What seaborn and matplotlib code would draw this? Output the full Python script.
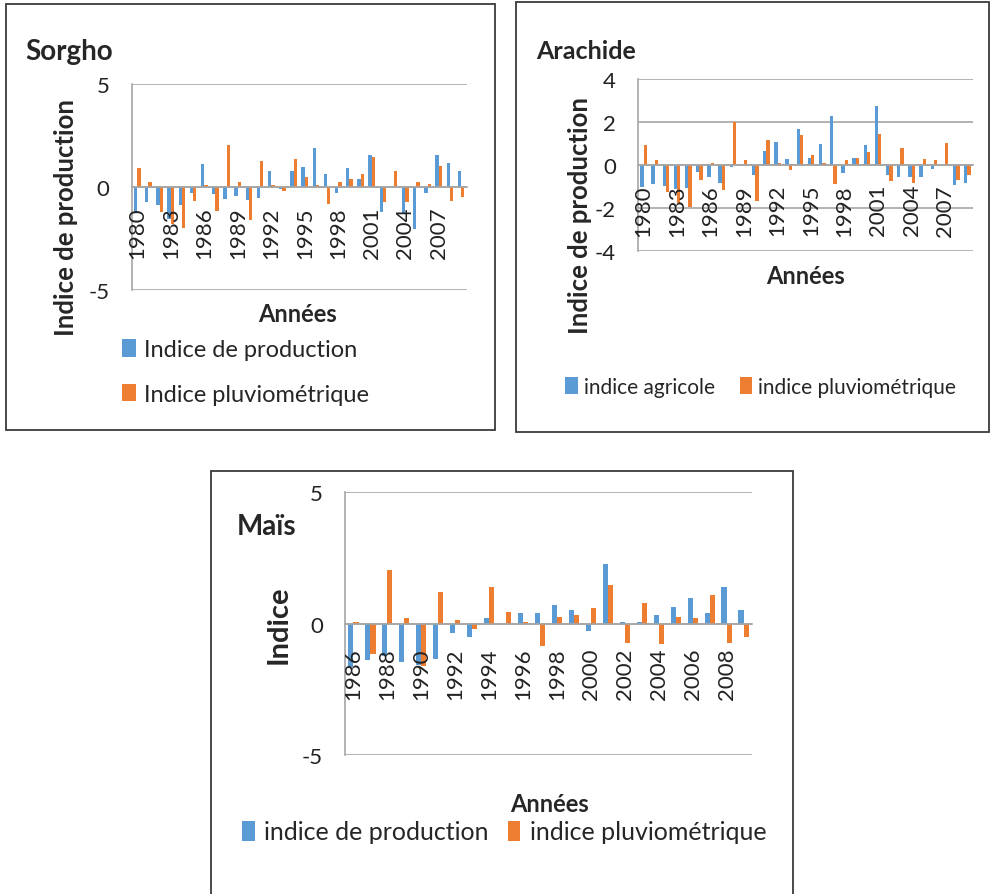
import numpy as np
import pandas as pd
import matplotlib
matplotlib.use("Agg")
import matplotlib.pyplot as plt
from matplotlib.patches import Rectangle
from matplotlib.ticker import FixedLocator
import seaborn as sns

# --- data ---
annees_sorgho = list(range(1980, 2010))
prod_sorgho = [-1.25, -0.75, -0.9, -1.55, -0.9, -0.3, 1.09, -0.37, -0.57, -0.45,
               -0.62, -0.55, 0.77, -0.1, 0.77, 0.98, 1.9, 0.62, -0.3, 0.9,
               0.36, 1.56, -1.24, 0.0, -1.25, -2.05, -0.3, 1.56, 1.17, 0.77]
pluvio_sorgho = [0.9, 0.23, -1.24, -1.8, -1.98, -0.7, 0.1, -1.15, 2.02, 0.23,
                 -1.63, 1.24, 0.08, -0.2, 1.37, 0.49, 0.1, -0.83, 0.23, 0.36,
                 0.64, 1.43, -0.75, 0.77, -0.75, 0.23, 0.15, 1.03, -0.7, -0.5]

annees_arachide = list(range(1980, 2010))
prod_arachide = [-1.0, -0.87, -0.98, -1.1, -1.06, -0.33, -0.54, -0.82, -0.09, 0.0,
                 -0.45, 0.67, 1.06, 0.3, 1.7, 0.34, 1.0, 2.29, -0.36, 0.34,
                 0.92, 2.74, -0.45, -0.54, -0.54, -0.54, -0.17, 0.0, -0.93, -0.82]
pluvio_arachide = [0.92, 0.22, -1.26, -1.76, -1.96, -0.67, 0.09, -1.14, 2.0, 0.22,
                   -1.65, 1.18, 0.09, -0.22, 1.39, 0.48, 0.09, -0.87, 0.22, 0.34,
                   0.61, 1.45, -0.75, 0.8, -0.82, 0.28, 0.22, 1.04, -0.67, -0.45]

annees_mais = list(range(1986, 2010))
prod_mais = [-1.65, -1.4, -1.25, -1.47, -1.56, -1.36, -0.35, -0.52, 0.2, 0.0,
             0.4, 0.4, 0.72, 0.52, -0.28, 2.28, 0.08, 0.08, 0.33, 0.65,
             0.97, 0.4, 1.39, 0.52]
pluvio_mais = [0.08, -1.15, 2.03, 0.2, -1.6, 1.2, 0.14, -0.22, 1.39, 0.46,
               0.08, -0.84, 0.27, 0.33, 0.59, 1.46, -0.73, 0.78, -0.78, 0.27,
               0.2, 1.09, -0.73, -0.52]

BLEU = "#5B9BD5"
ORANGE = "#ED7D31"
GRIS = "#A6A6A6"
W, H = 992, 895

sns.set_style("white")
plt.rcParams["font.family"] = ["Lato", "DejaVu Sans"]
plt.rcParams["patch.force_edgecolor"] = False

fig = plt.figure(figsize=(W / 100, H / 100), dpi=100)


def px(x, y):
    return x / W, 1 - y / H


def panneau(box, annees, prod, pluvio, noms, ylim, yticks, pas, ecart):
    x0, y0, x1, y1 = box
    ax = fig.add_axes([x0 / W, 1 - y1 / H, (x1 - x0) / W, (y1 - y0) / H])
    df = pd.DataFrame({
        "annee": [str(a) for a in annees] * 2,
        "valeur": list(prod) + list(pluvio),
        "serie": [noms[0]] * len(annees) + [noms[1]] * len(annees),
    })
    sns.barplot(data=df, x="annee", y="valeur", hue="serie",
                palette=[BLEU, ORANGE], width=0.6, saturation=1,
                errorbar=None, linewidth=0, ax=ax)
    n = len(annees)
    ax.spines["bottom"].set_position(("data", 0))
    ax.set_xlim(-0.5, n - 0.5)
    ax.set_ylim(*ylim)
    ax.set_yticks(yticks)
    ax.set_yticklabels([str(t) for t in yticks])
    ax.set_xticks([])
    ax.xaxis.set_minor_locator(FixedLocator(np.arange(-0.5, n, 1.0)))
    for s in ["top", "right"]:
        ax.spines[s].set_visible(False)
    for s in ["left", "bottom"]:
        ax.spines[s].set_color(GRIS)
        ax.spines[s].set_linewidth(1.2)
    ax.tick_params(axis="x", which="minor", length=6, color=GRIS, width=1.0,
                   direction="out")
    ax.tick_params(axis="y", length=7, color=GRIS, width=1.2, pad=9,
                   labelsize=16, labelcolor="#222222")
    # year labels just under the zero line, drawn over the bars
    for i in range(0, n, pas):
        ax.annotate(str(annees[i]), xy=(i, 0), xycoords="data",
                    xytext=(0, -ecart), textcoords="offset points",
                    rotation=90, ha="center", va="top", fontsize=16,
                    color="#222222", annotation_clip=False)
    ax.yaxis.grid(True, color=GRIS, lw=1.2)
    ax.set_axisbelow(True)
    ax.set_xlabel("")
    ax.set_ylabel("")
    return ax


def cadre(x0, y0, x1, y1):
    fig.add_artist(Rectangle(px(x0, y1), (x1 - x0) / W, (y1 - y0) / H,
                             transform=fig.transFigure, fill=False,
                             ec="#3A3A3A", lw=1.3))


# Sorgho
cadre(6, 5, 495, 431)
ax1 = panneau((131.7, 85, 466.7, 290.7), annees_sorgho, prod_sorgho, pluvio_sorgho,
              ["Indice de production", "Indice pluviométrique"],
              (-5, 5), [-5, 0, 5], 3, 14)
fig.text(*px(25, 60), "Sorgho", fontsize=20, fontweight="bold", ha="left", va="baseline")
fig.text(*px(66, 218), "Indice de production", fontsize=18.5, fontweight="bold",
         rotation=90, ha="center", va="center")
fig.text(*px(298, 315), "Années", fontsize=17, fontweight="bold", ha="center", va="center")
h, l = ax1.get_legend_handles_labels()
ax1.legend(h, l, loc="center left", bbox_to_anchor=px(122, 373),
           bbox_transform=fig.transFigure, frameon=False, fontsize=17, ncol=1,
           handlelength=0.6, handleheight=0.75, handletextpad=0.35,
           labelspacing=1.0, borderpad=0, borderaxespad=0)

# Arachide
cadre(516, 3, 989, 433)
ax2 = panneau((638, 80, 973, 252.3), annees_arachide, prod_arachide, pluvio_arachide,
              ["indice agricole", "indice pluviométrique"],
              (-4, 4), [-4, -2, 0, 2, 4], 3, 13.5)
fig.text(*px(536, 59), "Arachide", fontsize=18, fontweight="bold", ha="left", va="baseline")
fig.text(*px(580, 216), "Indice de production", fontsize=18.5, fontweight="bold",
         rotation=90, ha="center", va="center")
fig.text(*px(805, 277), "Années", fontsize=17, fontweight="bold", ha="center", va="center")
h, l = ax2.get_legend_handles_labels()
ax2.legend(h, l, loc="center left", bbox_to_anchor=px(565, 388),
           bbox_transform=fig.transFigure, frameon=False, fontsize=15, ncol=2,
           handlelength=0.6, handleheight=0.9, handletextpad=0.3,
           columnspacing=1.2, borderpad=0, borderaxespad=0)

# Maïs
cadre(211, 472, 793, 905)
ax3 = panneau((345, 493.3, 752, 756), annees_mais, prod_mais, pluvio_mais,
              ["indice de production", "indice pluviométrique"],
              (-5, 5), [-5, 0, 5], 2, 17)
fig.text(*px(237, 535), "Maïs", fontsize=20, fontweight="bold", ha="left", va="baseline")
fig.text(*px(279, 625), "Indice", fontsize=21, fontweight="bold",
         rotation=90, ha="center", va="center")
fig.text(*px(549, 805), "Années", fontsize=17, fontweight="bold", ha="center", va="center")
h, l = ax3.get_legend_handles_labels()
ax3.legend(h, l, loc="center left", bbox_to_anchor=px(242, 833),
           bbox_transform=fig.transFigure, frameon=False, fontsize=18, ncol=2,
           handlelength=0.5, handleheight=0.85, handletextpad=0.4,
           columnspacing=0.75, borderpad=0, borderaxespad=0)

fig.savefig("out.png", dpi=100, facecolor="white")
